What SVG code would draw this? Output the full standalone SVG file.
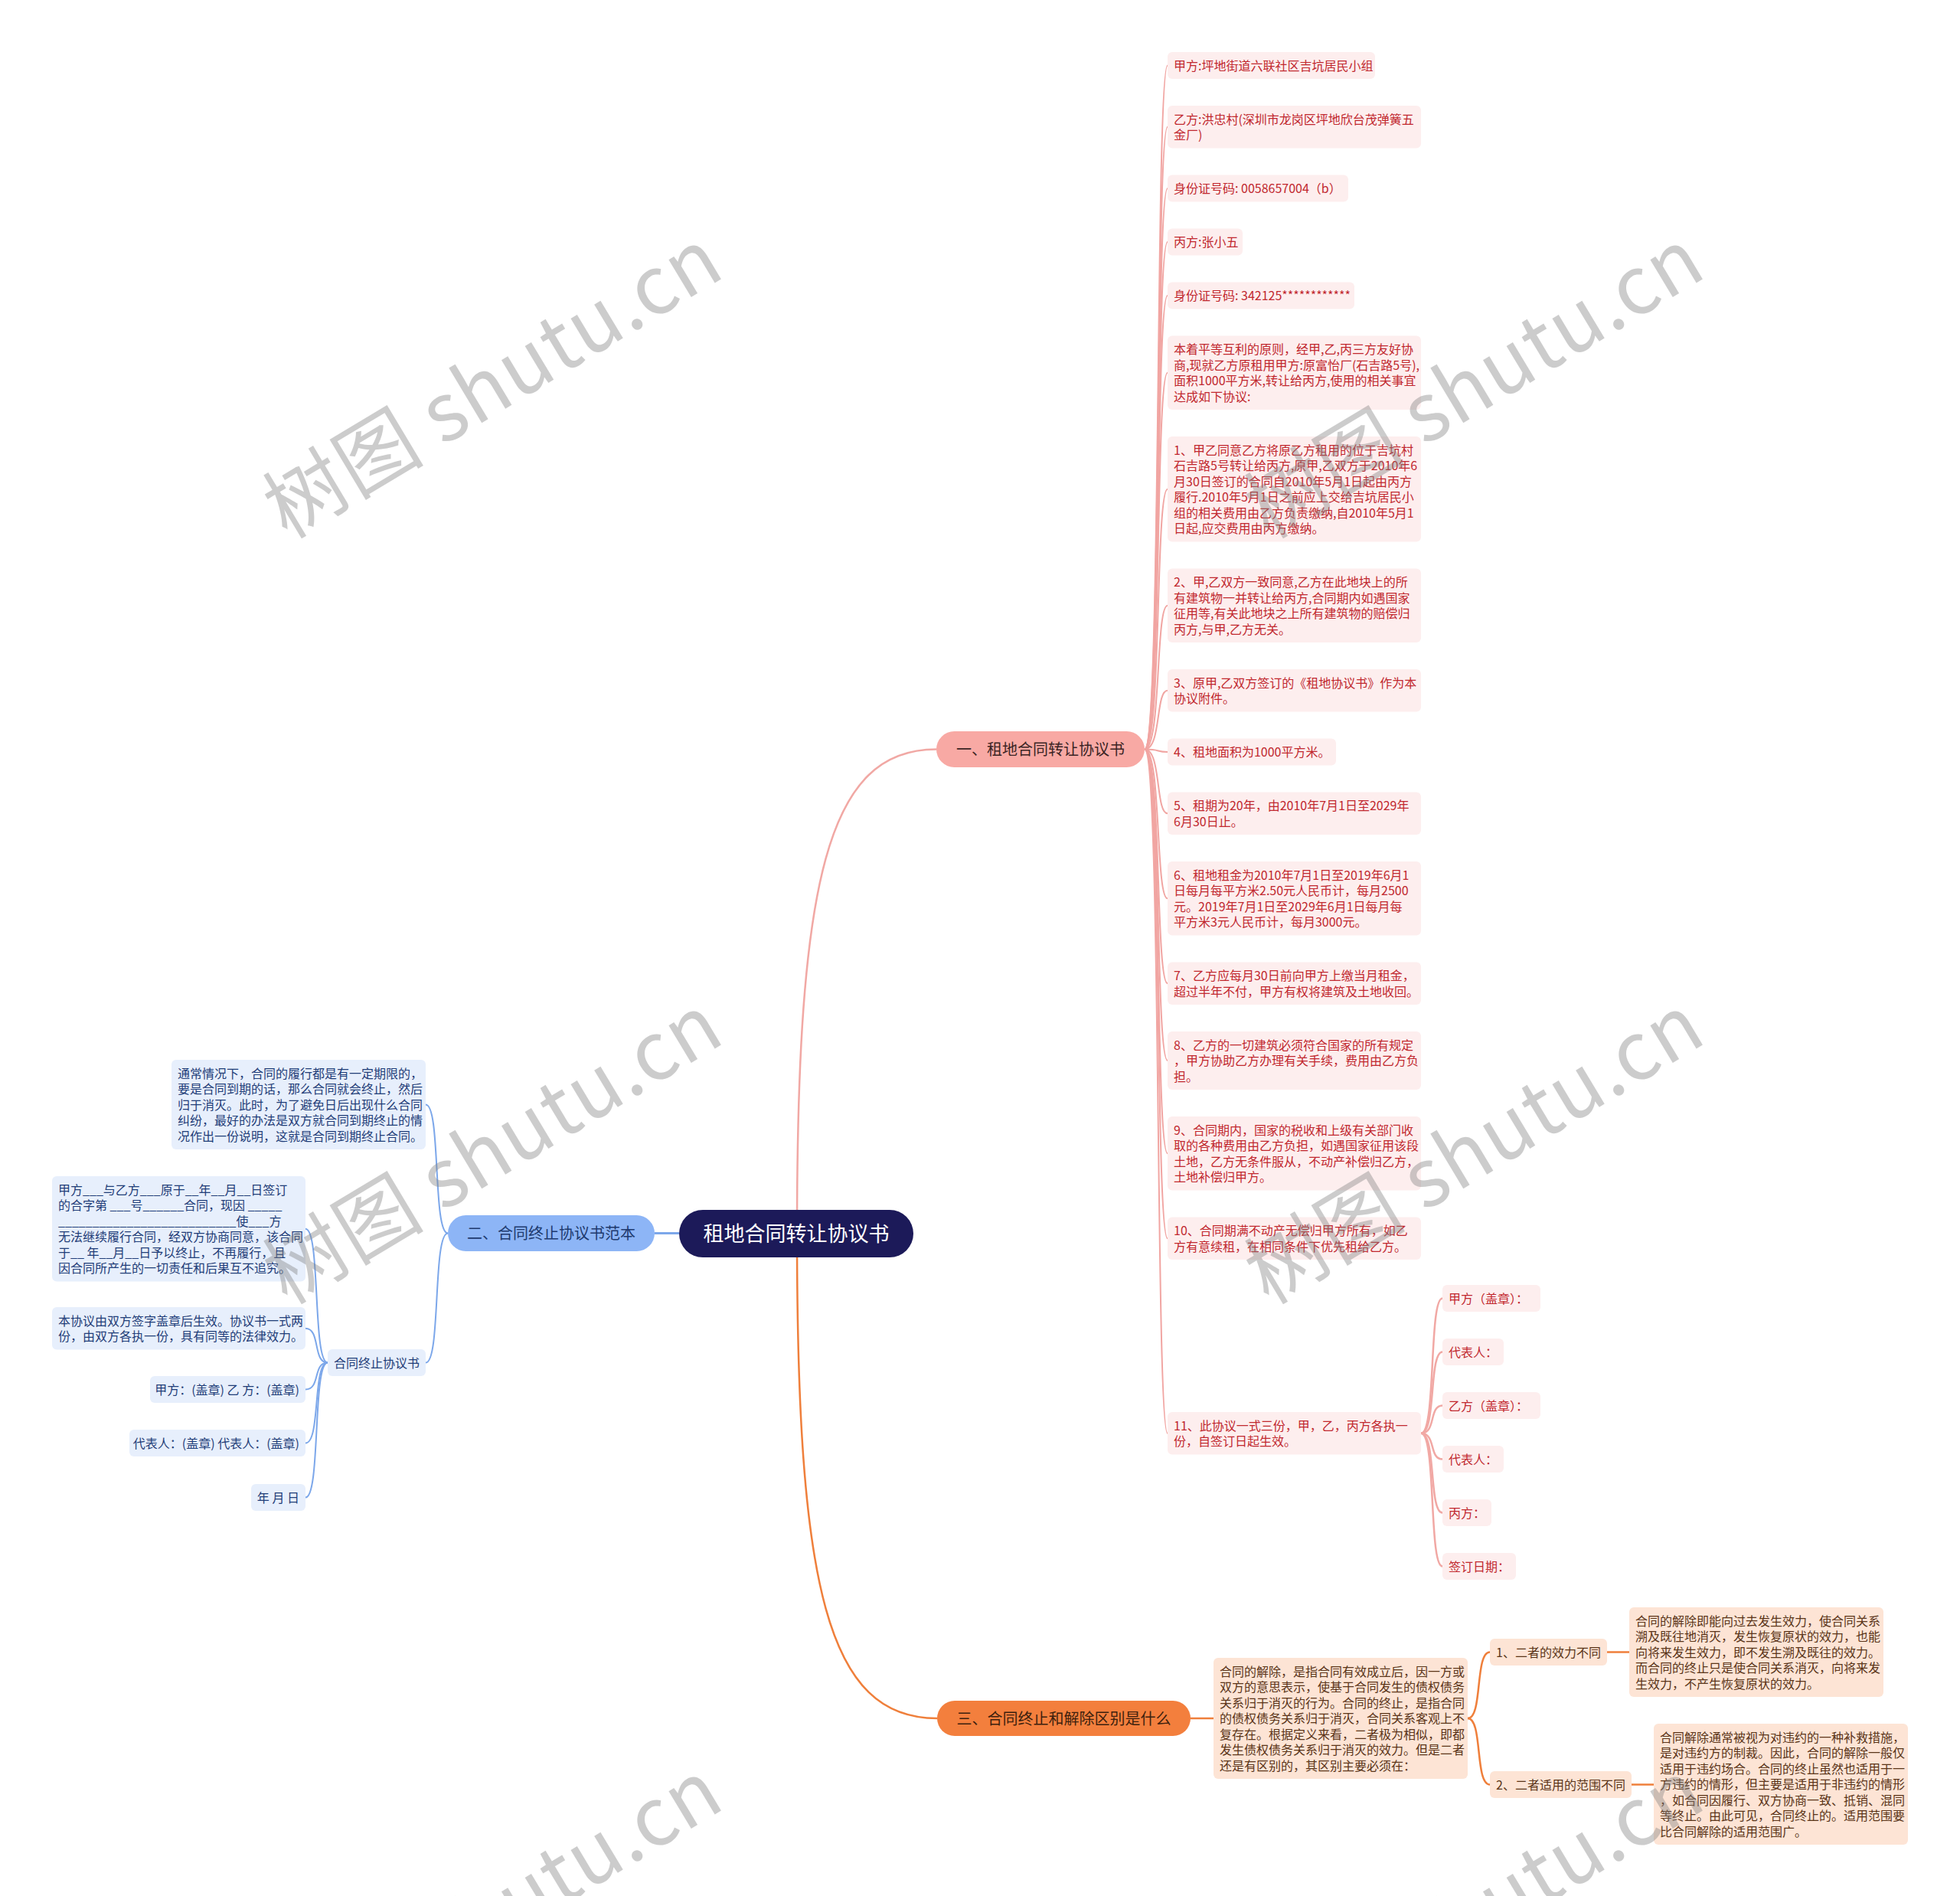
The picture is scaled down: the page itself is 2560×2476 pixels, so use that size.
<svg xmlns="http://www.w3.org/2000/svg" width="2560" height="2476" viewBox="0 0 2560 2476">
<defs>
<style>
text{font-family:"Noto Sans CJK SC","Noto Sans",sans-serif;font-size:16px}
.pk rect{fill:#fdeeee}
.pk text{fill:#c1282e}
.bl rect{fill:#e7effc}
.bl text{fill:#1f3d78}
.or rect{fill:#fde4d5}
.or text{fill:#5a3418}
.lp{fill:none;stroke:#f1a5a2;stroke-width:2}
.lpm{fill:none;stroke:#f1a8a4;stroke-width:2.5}
.lo{fill:none;stroke:#ef7f3b;stroke-width:2.5}
.lb{fill:none;stroke:#7ca7ea;stroke-width:2}
.wm{font-size:105px;fill:#7f7f7f;fill-opacity:0.4}
</style>
</defs>
<rect width="2560" height="2476" fill="#ffffff"/>
<g id="connectors">
<path class="lpm" d="M1041,1611 C1041,1150 1080,978.5 1223,978.5"/>
<path class="lp" d="M1495,978.5 C1517,978.5 1509,85.5 1525,85.5"/>
<path class="lp" d="M1495,978.5 C1517,978.5 1509,165.8 1525,165.8"/>
<path class="lp" d="M1495,978.5 C1517,978.5 1509,246 1525,246"/>
<path class="lp" d="M1495,978.5 C1517,978.5 1509,316 1525,316"/>
<path class="lp" d="M1495,978.5 C1517,978.5 1509,386 1525,386"/>
<path class="lp" d="M1495,978.5 C1517,978.5 1509,486.8 1525,486.8"/>
<path class="lp" d="M1495,978.5 C1517,978.5 1509,638.8 1525,638.8"/>
<path class="lp" d="M1495,978.5 C1517,978.5 1509,790.8 1525,790.8"/>
<path class="lp" d="M1495,978.5 C1517,978.5 1509,901.8 1525,901.8"/>
<path class="lp" d="M1495,978.5 C1517,978.5 1509,982 1525,982"/>
<path class="lp" d="M1495,978.5 C1517,978.5 1509,1062.3 1525,1062.3"/>
<path class="lp" d="M1495,978.5 C1517,978.5 1509,1173.3 1525,1173.3"/>
<path class="lp" d="M1495,978.5 C1517,978.5 1509,1284.3 1525,1284.3"/>
<path class="lp" d="M1495,978.5 C1517,978.5 1509,1385 1525,1385"/>
<path class="lp" d="M1495,978.5 C1517,978.5 1509,1506.3 1525,1506.3"/>
<path class="lp" d="M1495,978.5 C1517,978.5 1509,1617.3 1525,1617.3"/>
<path class="lp" d="M1495,978.5 C1517,978.5 1509,1871.8 1525,1871.8"/>
<path class="lpm" d="M1856,1871.8 C1876,1871.8 1866,1695.5 1884,1695.5"/>
<path class="lpm" d="M1856,1871.8 C1876,1871.8 1866,1765.5 1884,1765.5"/>
<path class="lpm" d="M1856,1871.8 C1876,1871.8 1866,1835.5 1884,1835.5"/>
<path class="lpm" d="M1856,1871.8 C1876,1871.8 1866,1905.5 1884,1905.5"/>
<path class="lpm" d="M1856,1871.8 C1876,1871.8 1866,1975.5 1884,1975.5"/>
<path class="lpm" d="M1856,1871.8 C1876,1871.8 1866,2045.5 1884,2045.5"/>
<path class="lo" d="M1041,1611 C1041,2072 1080,2244 1224,2244"/>
<path class="lo" d="M1555,2244 H1585"/>
<path class="lo" d="M1917,2244 C1937,2244 1926,2157.5 1946,2157.5"/>
<path class="lo" d="M1917,2244 C1937,2244 1926,2330.5 1946,2330.5"/>
<path class="lo" d="M2099,2157.5 H2128"/>
<path class="lo" d="M2131,2330.5 H2160"/>
<path class="lb" d="M887,1610.5 H855" style="stroke-width:3"/>
<path class="lb" d="M585,1610.5 C565,1610.5 576,1442.5 556,1442.5"/>
<path class="lb" d="M585,1610.5 C565,1610.5 576,1779.5 556,1779.5"/>
<path class="lb" d="M428,1779.5 C408,1779.5 419,1604.8 399,1604.8"/>
<path class="lb" d="M428,1779.5 C408,1779.5 419,1734.8 399,1734.8"/>
<path class="lb" d="M428,1779.5 C408,1779.5 419,1814.5 399,1814.5"/>
<path class="lb" d="M428,1779.5 C408,1779.5 419,1884.5 399,1884.5"/>
<path class="lb" d="M428,1779.5 C408,1779.5 419,1955.5 399,1955.5"/>
</g>
<g id="root">
<rect x="887" y="1580" width="306" height="62" rx="31" fill="#1c1a59"/>
<text x="1040" y="1621" text-anchor="middle" style="font-size:27px;fill:#ffffff">租地合同转让协议书</text>
</g>
<g id="n1">
<rect x="1223" y="955" width="272" height="47" rx="23.5" fill="#f8a9a4"/>
<text x="1359" y="986" text-anchor="middle" style="font-size:20px;fill:#3b2424">一、租地合同转让协议书</text>
</g>
<g id="n2">
<rect x="585" y="1587" width="270" height="47" rx="23.5" fill="#8db5f6"/>
<text x="720" y="1618" text-anchor="middle" style="font-size:20px;fill:#1e3a6e">二、合同终止协议书范本</text>
</g>
<g id="n3">
<rect x="1224" y="2221" width="331" height="46" rx="23" fill="#f37f3d"/>
<text x="1389.5" y="2251.5" text-anchor="middle" style="font-size:20px;fill:#3d1f0e">三、合同终止和解除区别是什么</text>
</g>
<g id="p1" class="pk"><rect x="1525" y="68" width="271" height="35" rx="6"/><text x="1533" y="91.5">甲方:坪地街道六联社区吉坑居民小组</text></g>
<g id="p2" class="pk"><rect x="1525" y="138" width="331" height="55.5" rx="6"/><text x="1533" y="161.5"><tspan x="1533">乙方:洪忠村(深圳市龙岗区坪地欣台茂弹簧五</tspan><tspan x="1533" dy="20.5">金厂)</tspan></text></g>
<g id="p3" class="pk"><rect x="1525" y="228.5" width="236" height="35" rx="6"/><text x="1533" y="252">身份证号码: 0058657004（b）</text></g>
<g id="p4" class="pk"><rect x="1525" y="298.5" width="98" height="35" rx="6"/><text x="1533" y="322">丙方:张小五</text></g>
<g id="p5" class="pk"><rect x="1525" y="368.5" width="244" height="35" rx="6"/><text x="1533" y="392">身份证号码: 342125************</text></g>
<g id="p6" class="pk"><rect x="1525" y="438.5" width="331" height="96.5" rx="6"/><text x="1533" y="462"><tspan x="1533">本着平等互利的原则，经甲,乙,丙三方友好协</tspan><tspan x="1533" dy="20.5">商,现就乙方原租用甲方:原富怡厂(石吉路5号),</tspan><tspan x="1533" dy="20.5">面积1000平方米,转让给丙方,使用的相关事宜</tspan><tspan x="1533" dy="20.5">达成如下协议:</tspan></text></g>
<g id="p7" class="pk"><rect x="1525" y="570" width="331" height="137.5" rx="6"/><text x="1533" y="593.5"><tspan x="1533">1、甲乙同意乙方将原乙方租用的位于吉坑村</tspan><tspan x="1533" dy="20.5">石吉路5号转让给丙方,原甲,乙双方于2010年6</tspan><tspan x="1533" dy="20.5">月30日签订的合同自2010年5月1日起由丙方</tspan><tspan x="1533" dy="20.5">履行.2010年5月1日之前应上交给吉坑居民小</tspan><tspan x="1533" dy="20.5">组的相关费用由乙方负责缴纳,自2010年5月1</tspan><tspan x="1533" dy="20.5">日起,应交费用由丙方缴纳。</tspan></text></g>
<g id="p8" class="pk"><rect x="1525" y="742.5" width="331" height="96.5" rx="6"/><text x="1533" y="766"><tspan x="1533">2、甲,乙双方一致同意,乙方在此地块上的所</tspan><tspan x="1533" dy="20.5">有建筑物一并转让给丙方,合同期内如遇国家</tspan><tspan x="1533" dy="20.5">征用等,有关此地块之上所有建筑物的赔偿归</tspan><tspan x="1533" dy="20.5">丙方,与甲,乙方无关。</tspan></text></g>
<g id="p9" class="pk"><rect x="1525" y="874" width="331" height="55.5" rx="6"/><text x="1533" y="897.5"><tspan x="1533">3、原甲,乙双方签订的《租地协议书》作为本</tspan><tspan x="1533" dy="20.5">协议附件。</tspan></text></g>
<g id="p10" class="pk"><rect x="1525" y="964.5" width="220" height="35" rx="6"/><text x="1533" y="988">4、租地面积为1000平方米。</text></g>
<g id="p11" class="pk"><rect x="1525" y="1034.5" width="331" height="55.5" rx="6"/><text x="1533" y="1058"><tspan x="1533">5、租期为20年，由2010年7月1日至2029年</tspan><tspan x="1533" dy="20.5">6月30日止。</tspan></text></g>
<g id="p12" class="pk"><rect x="1525" y="1125" width="331" height="96.5" rx="6"/><text x="1533" y="1148.5"><tspan x="1533">6、租地租金为2010年7月1日至2019年6月1</tspan><tspan x="1533" dy="20.5">日每月每平方米2.50元人民币计，每月2500</tspan><tspan x="1533" dy="20.5">元。2019年7月1日至2029年6月1日每月每</tspan><tspan x="1533" dy="20.5">平方米3元人民币计，每月3000元。</tspan></text></g>
<g id="p13" class="pk"><rect x="1525" y="1256.5" width="331" height="55.5" rx="6"/><text x="1533" y="1280"><tspan x="1533">7、乙方应每月30日前向甲方上缴当月租金，</tspan><tspan x="1533" dy="20.5">超过半年不付，甲方有权将建筑及土地收回。</tspan></text></g>
<g id="p14" class="pk"><rect x="1525" y="1347" width="331" height="76" rx="6"/><text x="1533" y="1370.5"><tspan x="1533">8、乙方的一切建筑必须符合国家的所有规定</tspan><tspan x="1533" dy="20.5">，甲方协助乙方办理有关手续，费用由乙方负</tspan><tspan x="1533" dy="20.5">担。</tspan></text></g>
<g id="p15" class="pk"><rect x="1525" y="1458" width="331" height="96.5" rx="6"/><text x="1533" y="1481.5"><tspan x="1533">9、合同期内，国家的税收和上级有关部门收</tspan><tspan x="1533" dy="20.5">取的各种费用由乙方负担，如遇国家征用该段</tspan><tspan x="1533" dy="20.5">土地，乙方无条件服从，不动产补偿归乙方，</tspan><tspan x="1533" dy="20.5">土地补偿归甲方。</tspan></text></g>
<g id="p16" class="pk"><rect x="1525" y="1589.5" width="331" height="55.5" rx="6"/><text x="1533" y="1613"><tspan x="1533">10、合同期满不动产无偿归甲方所有，如乙</tspan><tspan x="1533" dy="20.5">方有意续租，在相同条件下优先租给乙方。</tspan></text></g>
<g id="p17" class="pk"><rect x="1525" y="1844" width="331" height="55.5" rx="6"/><text x="1533" y="1867.5"><tspan x="1533">11、此协议一式三份，甲，乙，丙方各执一</tspan><tspan x="1533" dy="20.5">份，自签订日起生效。</tspan></text></g>
<g id="c1" class="pk"><rect x="1884" y="1678" width="128" height="35" rx="6"/><text x="1892" y="1701.5">甲方（盖章）：</text></g>
<g id="c2" class="pk"><rect x="1884" y="1748" width="80" height="35" rx="6"/><text x="1892" y="1771.5">代表人：</text></g>
<g id="c3" class="pk"><rect x="1884" y="1818" width="128" height="35" rx="6"/><text x="1892" y="1841.5">乙方（盖章）：</text></g>
<g id="c4" class="pk"><rect x="1884" y="1888" width="80" height="35" rx="6"/><text x="1892" y="1911.5">代表人：</text></g>
<g id="c5" class="pk"><rect x="1884" y="1958" width="64" height="35" rx="6"/><text x="1892" y="1981.5">丙方：</text></g>
<g id="c6" class="pk"><rect x="1884" y="2028" width="96" height="35" rx="6"/><text x="1892" y="2051.5">签订日期：</text></g>
<g id="b0" class="bl"><rect x="224" y="1384" width="332" height="117" rx="6"/><text x="232" y="1407.5"><tspan x="232">通常情况下，合同的履行都是有一定期限的，</tspan><tspan x="232" dy="20.5">要是合同到期的话，那么合同就会终止，然后</tspan><tspan x="232" dy="20.5">归于消灭。此时，为了避免日后出现什么合同</tspan><tspan x="232" dy="20.5">纠纷，最好的办法是双方就合同到期终止的情</tspan><tspan x="232" dy="20.5">况作出一份说明，这就是合同到期终止合同。</tspan></text></g>
<g id="bh" class="bl"><rect x="428" y="1762" width="128" height="35" rx="6"/><text x="436" y="1785.5">合同终止协议书</text></g>
<g id="b1" class="bl"><rect x="68" y="1536" width="331" height="137.5" rx="6"/><text x="76" y="1559.5"><tspan x="76">甲方___与乙方___原于__年__月__日签订</tspan><tspan x="76" dy="20.5">的合字第 ___号______合同，现因 _____</tspan><tspan x="76" dy="20.5">__________________________使___方</tspan><tspan x="76" dy="20.5">无法继续履行合同，经双方协商同意，该合同</tspan><tspan x="76" dy="20.5">于__ 年__月__日予以终止，不再履行，且</tspan><tspan x="76" dy="20.5">因合同所产生的一切责任和后果互不追究。</tspan></text></g>
<g id="b2" class="bl"><rect x="68" y="1707" width="331" height="55.5" rx="6"/><text x="76" y="1730.5"><tspan x="76">本协议由双方签字盖章后生效。协议书一式两</tspan><tspan x="76" dy="20.5">份，由双方各执一份，具有同等的法律效力。</tspan></text></g>
<g id="b3" class="bl"><rect x="196" y="1797" width="203" height="35" rx="6"/><text x="391" y="1820.5" text-anchor="end">甲方：(盖章) 乙 方：(盖章)</text></g>
<g id="b4" class="bl"><rect x="169" y="1867" width="230" height="35" rx="6"/><text x="391" y="1890.5" text-anchor="end">代表人：(盖章) 代表人：(盖章)</text></g>
<g id="b5" class="bl"><rect x="328" y="1938" width="71" height="35" rx="6"/><text x="391" y="1961.5" text-anchor="end">年 月 日</text></g>
<g id="o0" class="or"><rect x="1585" y="2165" width="332" height="158" rx="6"/><text x="1593" y="2188.5"><tspan x="1593">合同的解除，是指合同有效成立后，因一方或</tspan><tspan x="1593" dy="20.5">双方的意思表示，使基于合同发生的债权债务</tspan><tspan x="1593" dy="20.5">关系归于消灭的行为。合同的终止，是指合同</tspan><tspan x="1593" dy="20.5">的债权债务关系归于消灭，合同关系客观上不</tspan><tspan x="1593" dy="20.5">复存在。根据定义来看，二者极为相似，即都</tspan><tspan x="1593" dy="20.5">发生债权债务关系归于消灭的效力。但是二者</tspan><tspan x="1593" dy="20.5">还是有区别的，其区别主要必须在：</tspan></text></g>
<g id="o1" class="or"><rect x="1946" y="2140" width="153" height="35" rx="6"/><text x="1954" y="2163.5">1、二者的效力不同</text></g>
<g id="o2" class="or"><rect x="1946" y="2313" width="185" height="35" rx="6"/><text x="1954" y="2336.5">2、二者适用的范围不同</text></g>
<g id="o1a" class="or"><rect x="2128" y="2099" width="332" height="117" rx="6"/><text x="2136" y="2122.5"><tspan x="2136">合同的解除即能向过去发生效力，使合同关系</tspan><tspan x="2136" dy="20.5">溯及既往地消灭，发生恢复原状的效力，也能</tspan><tspan x="2136" dy="20.5">向将来发生效力，即不发生溯及既往的效力。</tspan><tspan x="2136" dy="20.5">而合同的终止只是使合同关系消灭，向将来发</tspan><tspan x="2136" dy="20.5">生效力，不产生恢复原状的效力。</tspan></text></g>
<g id="o2a" class="or"><rect x="2160" y="2251" width="332" height="158" rx="6"/><text x="2168" y="2274.5"><tspan x="2168">合同解除通常被视为对违约的一种补救措施，</tspan><tspan x="2168" dy="20.5">是对违约方的制裁。因此，合同的解除一般仅</tspan><tspan x="2168" dy="20.5">适用于违约场合。合同的终止虽然也适用于一</tspan><tspan x="2168" dy="20.5">方违约的情形，但主要是适用于非违约的情形</tspan><tspan x="2168" dy="20.5">，如合同因履行、双方协商一致、抵销、混同</tspan><tspan x="2168" dy="20.5">等终止。由此可见，合同终止的。适用范围要</tspan><tspan x="2168" dy="20.5">比合同解除的适用范围广。</tspan></text></g>
<g id="watermarks">
<text class="wm" x="375" y="705" transform="rotate(-31 375 705)" textLength="670">树图 shutu.cn</text>
<text class="wm" x="1657" y="705" transform="rotate(-31 1657 705)" textLength="670">树图 shutu.cn</text>
<text class="wm" x="375" y="1705" transform="rotate(-31 375 1705)" textLength="670">树图 shutu.cn</text>
<text class="wm" x="1657" y="1705" transform="rotate(-31 1657 1705)" textLength="670">树图 shutu.cn</text>
<text class="wm" x="375" y="2705" transform="rotate(-31 375 2705)" textLength="670">树图 shutu.cn</text>
<text class="wm" x="1657" y="2705" transform="rotate(-31 1657 2705)" textLength="670">树图 shutu.cn</text>
</g>
</svg>
